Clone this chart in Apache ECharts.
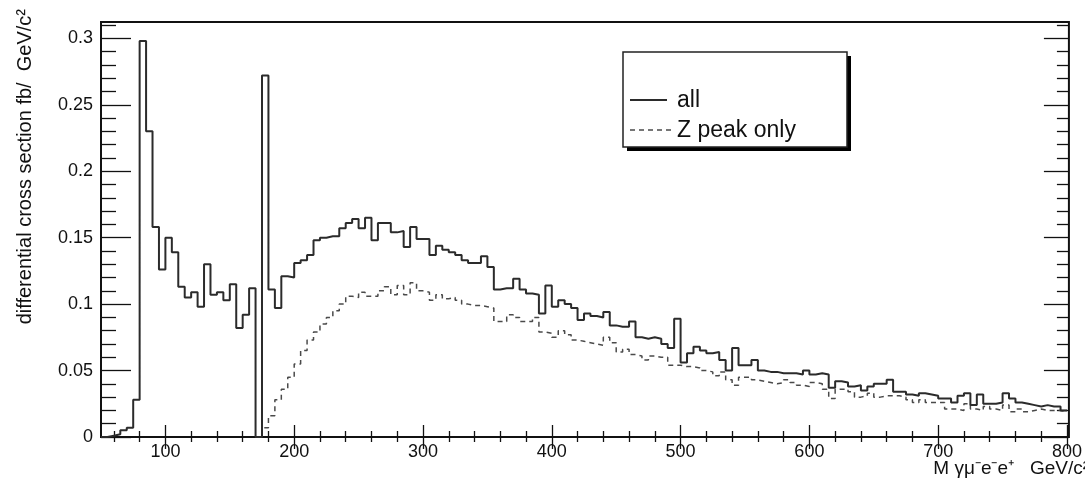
<!DOCTYPE html>
<html>
<head>
<meta charset="utf-8">
<script src="https://cdn.jsdelivr.net/npm/echarts@6/dist/echarts.min.js"></script>
<style>
  html, body { margin: 0; padding: 0; background: #fff; }
  #chart { width: 1085px; height: 479px; }
</style>
</head>
<body>
<div id="chart"></div>
<script>
// Histogram binning in GeV/c^2
const binWidth = 5;
const allStart = 50;     // low edge of the first "all" bin
const zPeakStart = 170;  // low edge of the first "Z peak only" bin

// Differential cross section (fb / GeV/c^2), all contributions
const allValues = [
  0, 0.001, 0.002, 0.005, 0.007, 0.028, 0.298, 0.230, 0.158, 0.126,
  0.150, 0.139, 0.113, 0.105, 0.109, 0.098, 0.130, 0.107, 0.109, 0.103,
  0.115, 0.082, 0.092, 0.112, 0, 0.272, 0.111, 0.097, 0.121, 0.120,
  0.131, 0.133, 0.137, 0.148, 0.150, 0.151, 0.151, 0.157, 0.161, 0.164,
  0.157, 0.165, 0.148, 0.161, 0.161, 0.154, 0.155, 0.143, 0.158, 0.149,
  0.149, 0.137, 0.144, 0.141, 0.139, 0.137, 0.133, 0.131, 0.131, 0.136,
  0.128, 0.111, 0.112, 0.112, 0.119, 0.111, 0.108, 0.107, 0.093, 0.114,
  0.098, 0.103, 0.100, 0.097, 0.088, 0.093, 0.091, 0.090, 0.094, 0.084,
  0.083, 0.083, 0.087, 0.075, 0.074, 0.075, 0.074, 0.070, 0.067, 0.089,
  0.056, 0.063, 0.068, 0.065, 0.063, 0.064, 0.058, 0.050, 0.067, 0.054,
  0.054, 0.058, 0.050, 0.049, 0.049, 0.048, 0.048, 0.048, 0.047, 0.050,
  0.047, 0.048, 0.047, 0.037, 0.042, 0.041, 0.038, 0.039, 0.035, 0.038,
  0.040, 0.040, 0.043, 0.034, 0.034, 0.032, 0.031, 0.033, 0.032, 0.031,
  0.029, 0.029, 0.026, 0.031, 0.033, 0.024, 0.032, 0.025, 0.025, 0.026,
  0.033, 0.029, 0.026, 0.025, 0.024, 0.023, 0.024, 0.023, 0.023, 0.020
];

// Differential cross section (fb / GeV/c^2), Z peak contribution only
const zPeakValues = [
  0, 0.007, 0.016, 0.028, 0.036, 0.045, 0.055, 0.065, 0.073, 0.079,
  0.085, 0.090, 0.095, 0.100, 0.106, 0.105, 0.109, 0.106, 0.106, 0.110,
  0.113, 0.107, 0.114, 0.107, 0.116, 0.110, 0.109, 0.103, 0.107, 0.104,
  0.105, 0.103, 0.100, 0.099, 0.099, 0.098, 0.097, 0.087, 0.087, 0.092,
  0.090, 0.087, 0.087, 0.090, 0.079, 0.078, 0.075, 0.080, 0.077, 0.073,
  0.072, 0.071, 0.070, 0.069, 0.075, 0.071, 0.064, 0.066, 0.062, 0.061,
  0.058, 0.061, 0.060, 0.060, 0.054, 0.054, 0.053, 0.053, 0.052, 0.050,
  0.049, 0.046, 0.049, 0.043, 0.039, 0.045, 0.045, 0.043, 0.042, 0.041,
  0.040, 0.041, 0.043, 0.041, 0.039, 0.038, 0.041, 0.040, 0.036, 0.029,
  0.036, 0.036, 0.034, 0.030, 0.031, 0.033, 0.030, 0.031, 0.031, 0.031,
  0.030, 0.028, 0.026, 0.028, 0.026, 0.026, 0.026, 0.021, 0.021, 0.020,
  0.025, 0.021, 0.020, 0.023, 0.021, 0.020, 0.024, 0.019, 0.021, 0.019,
  0.020, 0.021, 0.020, 0.020, 0.020, 0.019
];

// Axis ranges and ticks
const xMin = 50, xMax = 801.5;
const yMin = 0, yMax = 0.3123;
const xLabelTicks = [100, 200, 300, 400, 500, 600, 700, 800];
const xMinorTicks = [60, 80, 120, 140, 160, 180, 220, 240, 260, 280, 320, 340, 360, 380,
  420, 440, 460, 480, 520, 540, 560, 580, 620, 640, 660, 680, 720, 740, 760, 780];
const yLabelTicks = [0, 0.05, 0.1, 0.15, 0.2, 0.25, 0.3];
const yMinorTicks = [0.01, 0.02, 0.03, 0.04, 0.06, 0.07, 0.08, 0.09, 0.11, 0.12, 0.13, 0.14,
  0.16, 0.17, 0.18, 0.19, 0.21, 0.22, 0.23, 0.24, 0.26, 0.27, 0.28, 0.29, 0.31];

// Texts
const yTitle = 'differential cross section fb/  GeV/c²';
const xTitle = 'M γμ⁻e⁻e⁺   GeV/c²';
const legendLabels = ['all', 'Z peak only'];

// Turn per-bin values into step points (low edge of each bin, plus closing edge)
function toSteps(start, values) {
  const pts = values.map((v, i) => [start + i * binWidth, v]);
  pts.push([start + values.length * binWidth, values[values.length - 1]]);
  return pts;
}

const FONT = '"Liberation Sans", Arial, Helvetica, sans-serif';
const tickLine = { color: '#111', width: 1.3 };

function xAxisDef(position, ticks, len, withLabels) {
  return {
    type: 'value', position, min: xMin, max: xMax,
    axisLine: { show: false }, splitLine: { show: false },
    axisTick: { show: true, inside: true, length: len, customValues: ticks, lineStyle: tickLine },
    axisLabel: withLabels
      ? { show: true, customValues: ticks, margin: 6, fontSize: 18, color: '#111', fontFamily: FONT }
      : { show: false }
  };
}
function yAxisDef(position, ticks, len, withLabels) {
  return {
    type: 'value', position, min: yMin, max: yMax,
    axisLine: { show: false }, splitLine: { show: false },
    axisTick: { show: true, inside: true, length: len, customValues: ticks, lineStyle: tickLine },
    axisLabel: withLabels
      ? { show: true, customValues: ticks, margin: 8, fontSize: 18, color: '#111', fontFamily: FONT }
      : { show: false }
  };
}

const chart = echarts.init(document.getElementById('chart'), null, { renderer: 'canvas' });

const legendX = 623, legendY = 52, legendW = 224, legendH = 95;

chart.setOption({
  animation: false,
  backgroundColor: '#fff',
  grid: {
    left: 101, top: 22, width: 968, height: 415,
    show: true, borderColor: '#111', borderWidth: 2, backgroundColor: 'transparent'
  },
  xAxis: [
    xAxisDef('bottom', xLabelTicks, 12, true),
    xAxisDef('bottom', xMinorTicks, 6, false),
    xAxisDef('top', xLabelTicks, 12, false),
    xAxisDef('top', xMinorTicks, 5, false)
  ],
  yAxis: [
    yAxisDef('left', yLabelTicks, 30, true),
    yAxisDef('left', yMinorTicks, 15, false),
    yAxisDef('right', yLabelTicks, 25, false),
    yAxisDef('right', yMinorTicks, 12, false)
  ],
  series: [
    {
      name: legendLabels[1], type: 'line', step: 'end', symbol: 'none',
      xAxisIndex: 0, yAxisIndex: 0,
      data: toSteps(zPeakStart, zPeakValues),
      lineStyle: { color: '#4a4a4a', width: 1.5, type: [5, 4] }
    },
    {
      name: legendLabels[0], type: 'line', step: 'end', symbol: 'none',
      xAxisIndex: 0, yAxisIndex: 0,
      data: toSteps(allStart, allValues),
      lineStyle: { color: '#2b2b2b', width: 2 }
    }
  ],
  graphic: [
    // y axis title, reading upward, anchored at its top end
    {
      type: 'text', x: 25, y: 9, rotation: Math.PI / 2,
      style: { text: yTitle, font: '20px ' + FONT, fill: '#111', align: 'right', verticalAlign: 'middle' }
    },
    // x axis title at the lower right
    {
      type: 'text', x: 1089, y: 469,
      style: { text: xTitle, font: '19px ' + FONT, fill: '#111', align: 'right', verticalAlign: 'middle' }
    },
    // legend box with drop shadow
    {
      type: 'rect', shape: { x: legendX + 4, y: legendY + 4, width: legendW, height: legendH },
      style: { fill: '#000' }
    },
    {
      type: 'rect', shape: { x: legendX, y: legendY, width: legendW, height: legendH },
      style: { fill: '#fff', stroke: '#222', lineWidth: 1.5 }
    },
    {
      type: 'line', shape: { x1: 630, y1: 100, x2: 667, y2: 100 },
      style: { stroke: '#2b2b2b', lineWidth: 2 }
    },
    {
      type: 'text', x: 677, y: 101,
      style: { text: legendLabels[0], font: '23px ' + FONT, fill: '#111', verticalAlign: 'middle' }
    },
    {
      type: 'line', shape: { x1: 630, y1: 130, x2: 673, y2: 130 },
      style: { stroke: '#4a4a4a', lineWidth: 1.5, lineDash: [5, 4] }
    },
    {
      type: 'text', x: 677, y: 131,
      style: { text: legendLabels[1], font: '23px ' + FONT, fill: '#111', verticalAlign: 'middle' }
    }
  ]
});
</script>
</body>
</html>
